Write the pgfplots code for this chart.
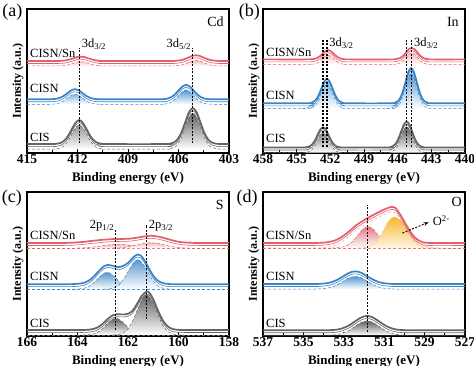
\documentclass[border=0pt]{standalone}
\usepackage{pgfplots}
\usepackage{pgfplotstable}
\pgfplotsset{compat=1.18}
\usepackage{fontspec}
\setmainfont{Liberation Serif}
\usetikzlibrary{arrows.meta}

\definecolor{cR}{RGB}{226,96,108}
\definecolor{cB}{RGB}{58,132,198}
\definecolor{cG}{RGB}{100,100,100}
\definecolor{cO}{RGB}{246,184,48}

% ---------- panel (a) Cd 3d ----------
\pgfplotstableread[row sep=\\]{x y\\ 415 .062\\ 413.5 .062\\ 413.25 .064\\ 413.025 .069\\ 412.8 .085\\ 412.575 .116\\ 412.35 .163\\ 412.125 .209\\ 411.9 .229\\ 411.675 .209\\ 411.45 .163\\ 411.225 .116\\ 411.0 .085\\ 410.775 .069\\ 410.55 .064\\ 410.3 .062\\ 406.75 .062\\ 406.5 .065\\ 406.275 .073\\ 406.05 .096\\ 405.825 .143\\ 405.6 .214\\ 405.375 .283\\ 405.15 .312\\ 404.925 .283\\ 404.7 .214\\ 404.475 .143\\ 404.25 .096\\ 404.025 .073\\ 403.8 .065\\ 403.55 .062\\ 403 .062\\}\aCIS
\pgfplotstableread[row sep=\\]{x y\\ 415 .373\\ 413.75 .373\\ 413.5 .374\\ 413.275 .376\\ 413.05 .383\\ 412.825 .396\\ 412.6 .416\\ 412.375 .435\\ 412.15 .443\\ 411.925 .435\\ 411.7 .416\\ 411.475 .396\\ 411.25 .383\\ 411.025 .376\\ 410.8 .374\\ 410.55 .373\\ 407.15 .373\\ 406.9 .374\\ 406.675 .377\\ 406.45 .387\\ 406.225 .406\\ 406.0 .434\\ 405.775 .461\\ 405.55 .473\\ 405.325 .461\\ 405.1 .434\\ 404.875 .406\\ 404.65 .387\\ 404.425 .377\\ 404.2 .374\\ 403.95 .373\\ 403 .373\\}\aCISN
\pgfplotstableread[row sep=\\]{x y\\ 415 .639\\ 413.4 .639\\ 413.15 .639\\ 412.925 .640\\ 412.7 .643\\ 412.475 .649\\ 412.25 .657\\ 412.025 .666\\ 411.8 .669\\ 411.575 .666\\ 411.35 .657\\ 411.125 .649\\ 410.9 .643\\ 410.675 .640\\ 410.45 .639\\ 406.56 .639\\ 406.31 .639\\ 406.085 .641\\ 405.86 .644\\ 405.635 .652\\ 405.41 .663\\ 405.185 .674\\ 404.96 .679\\ 404.735 .674\\ 404.51 .663\\ 404.285 .652\\ 404.06 .644\\ 403.835 .641\\ 403.61 .639\\ 403 .639\\}\aSn

% ---------- panel (b) In 3d ----------
\pgfplotstableread[row sep=\\]{x y\\ 458 .038\\ 454.4 .038\\ 454.15 .040\\ 453.9 .044\\ 453.65 .057\\ 453.4 .084\\ 453.15 .123\\ 452.9 .162\\ 452.65 .178\\ 452.4 .162\\ 452.15 .123\\ 451.9 .084\\ 451.65 .057\\ 451.4 .044\\ 451.15 .040\\ 450.9 .038\\ 446.95 .038\\ 446.7 .040\\ 446.45 .046\\ 446.2 .062\\ 445.95 .096\\ 445.7 .147\\ 445.45 .197\\ 445.2 .218\\ 444.95 .197\\ 444.7 .147\\ 444.45 .096\\ 444.2 .062\\ 443.95 .046\\ 443.7 .040\\ 443.45 .038\\ 440 .038\\}\bCIS
\pgfplotstableread[row sep=\\]{x y\\ 458 .345\\ 454.05 .345\\ 453.8 .347\\ 453.55 .353\\ 453.3 .368\\ 453.05 .400\\ 452.8 .448\\ 452.55 .495\\ 452.3 .515\\ 452.05 .495\\ 451.8 .448\\ 451.55 .400\\ 451.3 .368\\ 451.05 .353\\ 450.8 .347\\ 450.55 .345\\ 446.55 .345\\ 446.3 .348\\ 446.05 .356\\ 445.8 .378\\ 445.55 .425\\ 445.3 .494\\ 445.05 .561\\ 444.8 .590\\ 444.55 .561\\ 444.3 .494\\ 444.05 .425\\ 443.8 .378\\ 443.55 .356\\ 443.3 .348\\ 443.05 .345\\ 440 .345\\}\bCISN
\pgfplotstableread[row sep=\\]{x y\\ 458 .65\\ 453.95 .65\\ 453.7 .651\\ 453.45 .653\\ 453.2 .659\\ 452.95 .671\\ 452.7 .689\\ 452.45 .707\\ 452.2 .715\\ 451.95 .707\\ 451.7 .689\\ 451.45 .671\\ 451.2 .659\\ 450.95 .653\\ 450.7 .651\\ 450.45 .65\\ 446.5 .65\\ 446.25 .651\\ 446.0 .654\\ 445.75 .661\\ 445.5 .676\\ 445.25 .699\\ 445.0 .721\\ 444.75 .730\\ 444.5 .721\\ 444.25 .699\\ 444.0 .676\\ 443.75 .661\\ 443.5 .654\\ 443.25 .651\\ 443.0 .65\\ 440 .65\\}\bSn
\pgfplotstableread[row sep=\\]{x y\\ 454.5 .310\\ 454.1 .313\\ 453.7 .325\\ 453.3 .335\\ 452.9 .325\\ 452.5 .313\\ 452.1 .310\\}\bCISNsa
\pgfplotstableread[row sep=\\]{x y\\ 447.0 .310\\ 446.6 .313\\ 446.2 .325\\ 445.8 .335\\ 445.4 .325\\ 445.0 .313\\ 444.6 .310\\}\bCISNsb

% ---------- panel (c) S 2p ----------
\pgfplotstableread[row sep=\\]{x y\\ 166 .042\\ 164.0 .042\\ 163.8 .042\\ 163.6 .043\\ 163.4 .048\\ 163.2 .060\\ 163.0 .085\\ 162.8 .119\\ 162.6 .144\\ 162.45 .151\\ 162.25 .150\\ 162.05 .152\\ 161.85 .170\\ 161.65 .220\\ 161.45 .280\\ 161.26 .308\\ 161.15 .300\\ 161.0 .256\\ 160.8 .172\\ 160.6 .103\\ 160.4 .063\\ 160.2 .047\\ 160.0 .043\\ 159.8 .042\\ 158 .042\\}\cCIS
\pgfplotstableread[row sep=\\]{x y\\ 163.8 .007\\ 163.6 .009\\ 163.4 .013\\ 163.2 .026\\ 163.0 .052\\ 162.8 .088\\ 162.6 .117\\ 162.48 .123\\ 162.4 .120\\ 162.2 .095\\ 162.0 .059\\ 161.8 .030\\ 161.6 .015\\ 161.4 .009\\ 161.2 .007\\}\cCISa
\pgfplotstableread[row sep=\\]{x y\\ 162.6 .008\\ 162.4 .010\\ 162.2 .020\\ 162.0 .049\\ 161.8 .109\\ 161.6 .194\\ 161.4 .268\\ 161.26 .286\\ 161.2 .283\\ 161.0 .228\\ 160.8 .141\\ 160.6 .069\\ 160.4 .028\\ 160.2 .013\\ 160.0 .008\\ 159.8 .007\\}\cCISb
\pgfplotstableread[row sep=\\]{x y\\ 166 .36\\ 164.4 .36\\ 164.15 .361\\ 163.95 .363\\ 163.75 .369\\ 163.55 .385\\ 163.35 .414\\ 163.15 .453\\ 162.95 .485\\ 162.8 .494\\ 162.6 .487\\ 162.4 .478\\ 162.2 .486\\ 162.0 .508\\ 161.8 .545\\ 161.63 .566\\ 161.5 .560\\ 161.35 .527\\ 161.15 .462\\ 160.95 .407\\ 160.75 .377\\ 160.55 .365\\ 160.35 .361\\ 160.1 .36\\ 158 .36\\}\cCISN
\pgfplotstableread[row sep=\\]{x y\\ 164.15 .325\\ 163.95 .327\\ 163.75 .331\\ 163.55 .344\\ 163.35 .371\\ 163.15 .407\\ 162.95 .436\\ 162.83 .442\\ 162.75 .439\\ 162.55 .414\\ 162.35 .378\\ 162.15 .349\\ 161.95 .333\\ 161.75 .327\\ 161.55 .325\\}\cCISNa
\pgfplotstableread[row sep=\\]{x y\\ 162.95 .325\\ 162.75 .327\\ 162.55 .335\\ 162.35 .356\\ 162.15 .400\\ 161.95 .462\\ 161.75 .516\\ 161.61 .530\\ 161.55 .528\\ 161.35 .487\\ 161.15 .424\\ 160.95 .370\\ 160.75 .341\\ 160.55 .329\\ 160.35 .326\\ 160.15 .325\\}\cCISNb
\pgfplotstableread[row sep=\\]{x y\\ 166 .646\\ 164.6 .646\\ 164.2 .648\\ 163.8 .653\\ 163.4 .661\\ 163.0 .668\\ 162.6 .673\\ 162.3 .674\\ 162.0 .675\\ 161.7 .681\\ 161.4 .690\\ 161.1 .696\\ 160.8 .690\\ 160.5 .677\\ 160.2 .662\\ 159.9 .652\\ 159.5 .647\\ 159.0 .646\\ 158 .646\\}\cSn
\pgfplotstableread[row sep=\\]{x y\\ 164.0 .611\\ 163.6 .614\\ 163.2 .622\\ 162.8 .632\\ 162.4 .636\\ 162.0 .632\\ 161.6 .622\\ 161.2 .614\\ 160.8 .611\\}\cSna
\pgfplotstableread[row sep=\\]{x y\\ 162.6 .611\\ 162.2 .614\\ 161.8 .626\\ 161.4 .643\\ 161.1 .648\\ 160.8 .643\\ 160.4 .626\\ 160.0 .614\\ 159.6 .611\\}\cSnb

% ---------- panel (d) O 1s ----------
\pgfplotstableread[row sep=\\]{x y\\ 537 .04\\ 533.95 .04\\ 533.65 .041\\ 533.35 .044\\ 533.05 .054\\ 532.75 .073\\ 532.45 .101\\ 532.15 .128\\ 531.85 .140\\ 531.55 .128\\ 531.25 .101\\ 530.95 .073\\ 530.65 .054\\ 530.35 .044\\ 530.05 .041\\ 529.75 .04\\ 527 .04\\}\dCIS
\pgfplotstableread[row sep=\\]{x y\\ 537 .361\\ 534.5 .361\\ 534.23 .362\\ 533.93 .365\\ 533.63 .373\\ 533.33 .390\\ 533.03 .414\\ 532.73 .439\\ 532.43 .449\\ 532.13 .439\\ 531.83 .414\\ 531.53 .390\\ 531.23 .373\\ 530.93 .365\\ 530.63 .362\\ 530.35 .361\\ 527 .361\\}\dCISN
\pgfplotstableread[row sep=\\]{x y\\ 537 .646\\ 534.5 .646\\ 533.83 .651\\ 533.34 .669\\ 532.84 .715\\ 532.35 .773\\ 531.82 .819\\ 531.36 .854\\ 530.94 .882\\ 530.66 .896\\ 530.45 .889\\ 530.2 .842\\ 529.87 .762\\ 529.54 .692\\ 529.21 .658\\ 528.8 .646\\ 527 .646\\}\dSn
\pgfplotstableread[row sep=\\]{x y\\ 533.6 .611\\ 533.3 .613\\ 533.05 .618\\ 532.8 .631\\ 532.55 .659\\ 532.3 .701\\ 532.05 .743\\ 531.8 .760\\ 531.55 .743\\ 531.3 .701\\ 531.05 .659\\ 530.8 .631\\ 530.55 .618\\ 530.3 .613\\ 530.0 .611\\}\dSna
\pgfplotstableread[row sep=\\]{x y\\ 532.3 .611\\ 532.0 .613\\ 531.75 .621\\ 531.5 .640\\ 531.25 .682\\ 531.0 .743\\ 530.75 .803\\ 530.5 .828\\ 530.175 .803\\ 529.85 .743\\ 529.525 .682\\ 529.2 .640\\ 528.875 .621\\ 528.55 .613\\ 528.2 .611\\}\dSnb

\tikzset{
  lab/.style={font=\fontsize{12.5}{13}\selectfont, anchor=west, inner sep=0pt},
  vline/.style={black, line width=1.1pt, dash pattern=on 2pt off 1.5pt},
  plab/.style={font=\fontsize{18}{19}\selectfont, inner sep=0pt},
  elab/.style={font=\fontsize{14}{15}\selectfont, anchor=east, inner sep=0pt},
}
\pgfplotsset{
  panel/.style={
    scale only axis, width=202pt, height=144pt, anchor=south west,
    x dir=reverse, ymin=0, ymax=1, ytick=\empty,
    axis line style={line width=1.5pt},
    xtick pos=bottom, tick align=inside,
    major tick length=4pt, minor tick length=2.5pt, minor x tick num=1,
    every tick/.style={black, line width=0.9pt},
    /pgf/number format/assume math mode=true,
    /pgf/number format/1000 sep={},
    xticklabel style={font=\fontsize{13.5}{14}\selectfont\bfseries, inner sep=1.5pt},
    xlabel={Binding energy (eV)},
    ylabel={Intensity (a.u.)},
    xlabel style={font=\fontsize{13}{14}\selectfont\bfseries, at={(axis description cs:0.5,-0.174)}, anchor=center},
    ylabel style={font=\fontsize{12}{13}\selectfont\bfseries, at={(axis description cs:-0.045,0.5)}, anchor=center},
    clip mode=individual,
  },
}

% component fill + dashed outline
\newcommand{\compfill}[4]{%
  \addplot[draw=none, smooth, top color=#2, bottom color=white, yshift=#4] table {#1} -- cycle;
  \addplot[#3, densely dashed, line width=0.5pt, smooth, yshift=#4] table {#1};
}
% envelope: thin fit line and thick data line
\newcommand{\envline}[2]{%
  \addplot[#2, line width=0.6pt, smooth, yshift=-2.5pt] table {#1};
  \addplot[#2, line width=1.7pt, smooth] table {#1};
}

\begin{document}
\begin{tikzpicture}
\path[use as bounding box] (0pt,0pt) rectangle (474pt,366pt);

% ================= (a) =================
\begin{axis}[panel, at={(27pt,213pt)}, xmin=403, xmax=415, xtick={403,406,409,412,415}]
  \compfill{\aSn}{cR!45}{cR}{-5pt}
  \envline{\aSn}{cR}
  \compfill{\aCISN}{cB!85}{cB}{-5pt}
  \envline{\aCISN}{cB}
  \compfill{\aCIS}{cG!95!black}{cG}{-5pt}
  \envline{\aCIS}{cG}
  \addplot[vline] coordinates {(411.9,0.067) (411.9,0.727)};
  \addplot[vline] coordinates {(405.15,0.067) (405.15,0.727)};
  \node[lab] at (rel axis cs:0.015,0.694) {CISN/Sn};
  \node[lab] at (rel axis cs:0.015,0.447) {CISN};
  \node[lab] at (rel axis cs:0.015,0.111) {CIS};
  \node[lab] at (axis cs:411.75,0.755) {3d\textsubscript{3/2}};
  \node[lab, anchor=east] at (axis cs:405.25,0.755) {3d\textsubscript{5/2}};
  \node[elab] at (rel axis cs:0.975,0.91) {Cd};
  \node[plab] at (rel axis cs:-0.072,0.975) {(a)};
\end{axis}

% ================= (b) =================
\begin{axis}[panel, at={(263pt,213pt)}, xmin=440, xmax=458, xtick={440,443,446,449,452,455,458}]
  \compfill{\bSn}{cR!45}{cR}{-5pt}
  \envline{\bSn}{cR}
  \compfill{\bCISNsa}{cB!40}{cB}{0pt}
  \compfill{\bCISNsb}{cB!40}{cB}{0pt}
  \compfill{\bCISN}{cB!85}{cB}{-5pt}
  \envline{\bCISN}{cB}
  \compfill{\bCIS}{cG!95!black}{cG}{-5pt}
  \envline{\bCIS}{cG}
  \addplot[vline] coordinates {(452.65,0.044) (452.65,0.796)};
  \addplot[vline] coordinates {(452.3,0.044) (452.3,0.796)};
  \addplot[vline] coordinates {(445.2,0.044) (445.2,0.796)};
  \addplot[vline] coordinates {(444.8,0.044) (444.8,0.796)};
  \node[lab] at (rel axis cs:0.015,0.696) {CISN/Sn};
  \node[lab] at (rel axis cs:0.015,0.403) {CISN};
  \node[lab] at (rel axis cs:0.015,0.104) {CIS};
  \node[lab] at (axis cs:452.1,0.764) {3d\textsubscript{3/2}};
  \node[lab] at (axis cs:444.55,0.764) {3d\textsubscript{3/2}};
  \node[elab] at (rel axis cs:0.97,0.91) {In};
  \node[plab] at (rel axis cs:-0.067,0.975) {(b)};
\end{axis}

% ================= (c) =================
\begin{axis}[panel, at={(27pt,30pt)}, xmin=158, xmax=166, xtick={158,160,162,164,166}]
  \addplot[cR, densely dashed, line width=0.5pt] coordinates {(166,0.611) (158,0.611)};
  \compfill{\cSna}{cR!45}{cR}{0pt}
  \compfill{\cSnb}{cR!45}{cR}{0pt}
  \envline{\cSn}{cR}
  \addplot[cB, densely dashed, line width=0.5pt] coordinates {(166,0.325) (158,0.325)};
  \compfill{\cCISNa}{cB!85}{cB}{0pt}
  \compfill{\cCISNb}{cB!85}{cB}{0pt}
  \envline{\cCISN}{cB}
  \addplot[cG, densely dashed, line width=0.5pt] coordinates {(166,0.007) (158,0.007)};
  \compfill{\cCISa}{cG!95!black}{cG}{0pt}
  \compfill{\cCISb}{cG!95!black}{cG}{0pt}
  \envline{\cCIS}{cG}
  \addplot[vline] coordinates {(162.48,0.042) (162.48,0.739)};
  \addplot[vline] coordinates {(161.26,0.116) (161.26,0.774)};
  \node[lab] at (rel axis cs:0.015,0.695) {CISN/Sn};
  \node[lab] at (rel axis cs:0.015,0.416) {CISN};
  \node[lab] at (rel axis cs:0.015,0.089) {CIS};
  \node[lab, anchor=east] at (axis cs:162.54,0.768) {2p\textsubscript{1/2}};
  \node[lab] at (axis cs:161.18,0.768) {2p\textsubscript{3/2}};
  \node[elab] at (rel axis cs:0.975,0.91) {S};
  \node[plab] at (rel axis cs:-0.075,0.96) {(c)};
\end{axis}

% ================= (d) =================
\begin{axis}[panel, at={(263pt,30pt)}, xmin=527, xmax=537, xtick={527,529,531,533,535,537}]
  \addplot[cR, densely dashed, line width=0.5pt] coordinates {(537,0.611) (527,0.611)};
  \compfill{\dSna}{cR!85}{cR}{0pt}
  \addplot[draw=none, smooth, top color=cO, bottom color=cO!12] table {\dSnb} -- cycle;
  \addplot[cO!70, densely dashed, line width=0.5pt, smooth] table {\dSnb};
  \addplot[cR!60, densely dashed, line width=0.5pt, smooth, yshift=-5pt] table {\dSn};
  \envline{\dSn}{cR}
  \compfill{\dCISN}{cB!85}{cB}{-5pt}
  \envline{\dCISN}{cB}
  \compfill{\dCIS}{cG!95!black}{cG}{-5pt}
  \envline{\dCIS}{cG}
  \addplot[vline] coordinates {(531.82,0.03) (531.82,0.91)};
  \draw[black, line width=0.9pt, dash pattern=on 2pt off 1.5pt, -{Stealth[length=5pt]}] (axis cs:530.1,0.715) -- (axis cs:528.8,0.79);
  \node[lab] at (rel axis cs:0.015,0.695) {CISN/Sn};
  \node[lab] at (rel axis cs:0.015,0.416) {CISN};
  \node[lab] at (rel axis cs:0.015,0.089) {CIS};
  \node[lab] at (rel axis cs:0.84,0.80) {O\textsuperscript{2-}};
  \node[elab] at (rel axis cs:0.985,0.93) {O};
  \node[plab] at (rel axis cs:-0.078,0.96) {(d)};
\end{axis}
\end{tikzpicture}
\end{document}
